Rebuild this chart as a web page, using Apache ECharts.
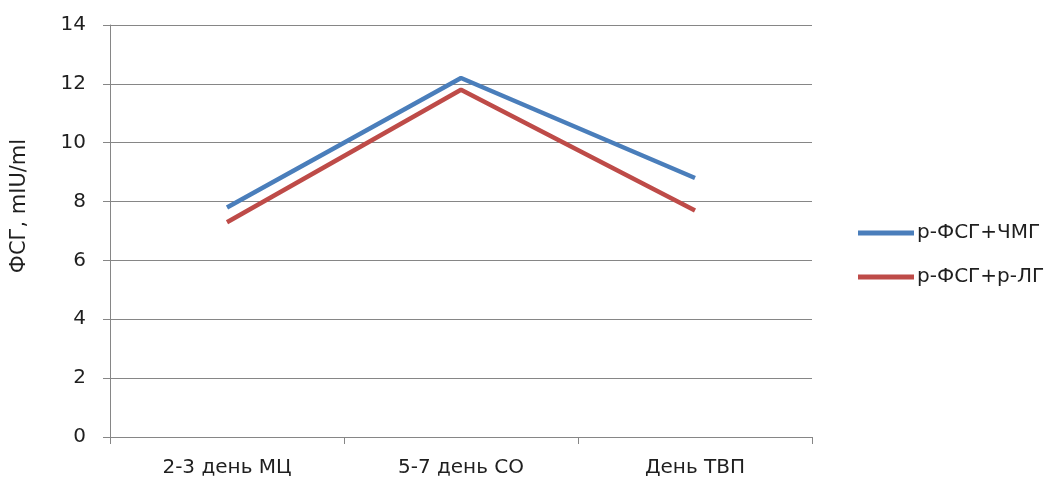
<!DOCTYPE html>
<html>
<head>
<meta charset="utf-8">
<script src="https://cdn.jsdelivr.net/npm/echarts@6/dist/echarts.min.js"></script>
<style>html,body{margin:0;padding:0;background:#fff}#c{width:1048px;height:486px}</style>
</head>
<body>
<div id="c"></div>
<script>
var categories = ['2-3 день МЦ', '5-7 день СО', 'День ТВП'];
var seriesNames = ['р-ФСГ+ЧМГ', 'р-ФСГ+р-ЛГ'];
var seriesA = [7.8, 12.2, 8.8];
var seriesB = [7.3, 11.8, 7.7];
var colors = ['#4A7EBB', '#BE4B48'];
var yTitle = 'ФСГ, mIU/ml';

var font = '"DejaVu Sans", "Noto Sans", sans-serif';
var txt = '#1f1f1f';
var chart = echarts.init(document.getElementById('c'), null, {renderer: 'canvas'});
chart.setOption({
  animation: false,
  color: colors,
  textStyle: {fontFamily: font},
  grid: {left: 110, right: 236, top: 25, bottom: 49, containLabel: false},
  legend: {
    orient: 'vertical',
    left: 853,
    top: 216,
    itemWidth: 56,
    itemHeight: 5,
    itemGap: 20,
    icon: 'rect',
    data: seriesNames,
    textStyle: {fontSize: 20, color: txt, fontFamily: font, lineHeight: 24, padding: [0, 0, 0, -2]}
  },
  graphic: [{
    type: 'text',
    x: 20, y: 206,
    rotation: Math.PI / 2,
    style: {text: yTitle, font: '21px ' + font, fill: txt, align: 'center', verticalAlign: 'middle'}
  }],
  xAxis: {
    type: 'category',
    data: categories,
    boundaryGap: true,
    axisLine: {lineStyle: {color: '#868686', width: 1}},
    axisTick: {show: true, length: 7, alignWithLabel: false, lineStyle: {color: '#868686'}},
    axisLabel: {fontSize: 20, color: txt, margin: 21, fontFamily: font}
  },
  yAxis: {
    type: 'value',
    min: 0, max: 14, interval: 2,
    axisLine: {show: true, lineStyle: {color: '#868686'}},
    axisTick: {show: true, length: 7, lineStyle: {color: '#868686'}},
    axisLabel: {fontSize: 20, color: txt, margin: 24, fontFamily: font},
    splitLine: {show: true, lineStyle: {color: '#868686', width: 1}}
  },
  series: [
    {name: seriesNames[0], type: 'line', data: seriesA, symbol: 'none', lineStyle: {width: 4.5, color: colors[0]}},
    {name: seriesNames[1], type: 'line', data: seriesB, symbol: 'none', lineStyle: {width: 4.5, color: colors[1]}}
  ]
});
</script>
</body>
</html>
